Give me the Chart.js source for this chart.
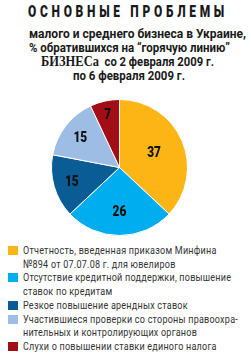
<!DOCTYPE html>
<html>
<head>
<meta charset="utf-8">
<script src="https://cdn.jsdelivr.net/npm/chart.js@4"></script>
<style>
  body { margin: 0; width: 251px; height: 358px; background: #fff; overflow: hidden; position: relative; font-family: Roboto, "Liberation Sans", sans-serif; color: #222; }
  .line { position: absolute; white-space: nowrap; transform-origin: 0 0; }
  #title { font-weight: 900; font-size: 16px; letter-spacing: 5px; top: 2px; color: #1a1a1a; }
  .sub { font-weight: bold; font-size: 13.5px; color: #1a1a1a; }
  .sub b { font-family: "Liberation Serif", serif; font-size: 15px; }
  #box { position: absolute; left: 51px; top: 99px; width: 137px; height: 137px; }
  #legend { position: absolute; left: 0; top: 0; }
  .sw { position: absolute; left: 8px; width: 10px; height: 9px; }
  .lg { font-size: 11.8px; color: #333; letter-spacing: 0.3px; }
</style>
</head>
<body>
<div id="title" class="line">ОСНОВНЫЕ ПРОБЛЕМЫ</div>
<div id="s1" class="line sub">малого и среднего бизнеса в Украине,</div>
<div id="s2" class="line sub">% обратившихся на “горячую линию”</div>
<div id="s3" class="line sub"><b>БИЗНЕСа</b>&nbsp; со 2 февраля 2009 г.</div>
<div id="s4" class="line sub">по 6 февраля 2009 г.</div>
<div id="box"><canvas id="pie"></canvas></div>
<div id="legend"></div>
<script>
// problems, % of calls (legend lines as in the original)
const problemLabels = [
  ['Отчетность, введенная приказом Минфина', '№894 от 07.07.08 г. для ювелиров'],
  ['Отсутствие кредитной поддержки, повышение', 'ставок по кредитам'],
  ['Резкое повышение арендных ставок'],
  ['Участившиеся проверки со стороны правоохра-', 'нительных и контролирующих органов'],
  ['Слухи о повышении ставки единого налога']
];
const problemValues = [37, 26, 15, 15, 7];
const sliceColors = ['#FDB515', '#00AEEF', '#0A5C94', '#9DBDE4', '#A30E16'];

// squeeze a line of text to a target width, centered on cx
function fit(el, width, top, cx) {
  const w = el.getBoundingClientRect().width;
  el.style.top = top + 'px';
  el.style.transform = 'scaleX(' + (width / w) + ')';
  el.style.left = (cx - width / 2) + 'px';
}
fit(document.getElementById('title'), 200, 2, 127.5);
fit(document.getElementById('s1'), 217, 25, 137.5);
fit(document.getElementById('s2'), 201, 39, 129.5);
fit(document.getElementById('s3'), 173, 53, 127);
fit(document.getElementById('s4'), 112, 67, 129);

// numbers inside slices, small slices get their number further out
const valueLabels = {
  id: 'valueLabels',
  afterDatasetsDraw(chart) {
    const ctx = chart.ctx;
    const meta = chart.getDatasetMeta(0);
    ctx.save();
    ctx.font = '900 14px Roboto, sans-serif';
    ctx.fillStyle = '#111';
    ctx.textAlign = 'center';
    ctx.textBaseline = 'middle';
    meta.data.forEach(function(arc, i) {
      const p = arc.getProps(['x', 'y', 'startAngle', 'endAngle', 'outerRadius', 'circumference']);
      const mid = (p.startAngle + p.endAngle) / 2;
      const share = p.circumference / (Math.PI * 2);
      const r = p.outerRadius * (0.85 - 0.8 * share);
      ctx.save();
      ctx.translate(p.x + Math.cos(mid) * r, p.y + Math.sin(mid) * r);
      ctx.scale(0.85, 1);
      ctx.fillText(problemValues[i], 0, 1);
      ctx.restore();
    });
    ctx.restore();
  }
};

const chart = new Chart(document.getElementById('pie'), {
  type: 'pie',
  data: {
    labels: problemLabels,
    datasets: [{
      data: problemValues,
      backgroundColor: sliceColors,
      borderColor: '#fff',
      borderWidth: 1
    }]
  },
  options: {
    responsive: true,
    maintainAspectRatio: false,
    animation: false,
    layout: { padding: 0 },
    plugins: { legend: { display: false }, tooltip: { enabled: false } }
  },
  plugins: [valueLabels]
});

// html legend, lines squeezed like the condensed print font
const legendEl = document.getElementById('legend');
const lineH = 13.7;
let y = 243;
let lines = [];
chart.data.labels.forEach(function(lab, i) {
  const sw = document.createElement('div');
  sw.className = 'sw';
  sw.style.top = (y + 3) + 'px';
  sw.style.background = chart.data.datasets[0].backgroundColor[i];
  legendEl.appendChild(sw);
  lab.forEach(function(t) {
    const d = document.createElement('div');
    d.className = 'line lg';
    d.textContent = t;
    legendEl.appendChild(d);
    lines.push({ el: d, top: y });
    y += lineH;
  });
});
// one common squeeze, longest line is about 215px wide in the original
let maxW = 0;
lines.forEach(function(l) { maxW = Math.max(maxW, l.el.getBoundingClientRect().width); });
const sq = 215 / maxW;
lines.forEach(function(l) {
  l.el.style.left = '23px';
  l.el.style.top = l.top + 'px';
  l.el.style.transform = 'scaleX(' + sq + ')';
});
</script>
</body>
</html>
